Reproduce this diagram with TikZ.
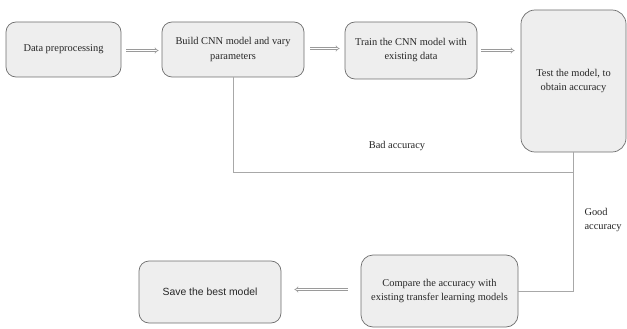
\documentclass[tikz,border=0pt]{standalone}
\usepackage{fontspec}
\setmainfont{Liberation Serif}
\newfontfamily\sansf{Liberation Sans}
\usetikzlibrary{arrows.meta}
\definecolor{boxfill}{HTML}{EEEEEE}
\definecolor{boxline}{HTML}{6E6E6E}
\definecolor{wire}{HTML}{A8A8A8}
\definecolor{arrowgray}{HTML}{9A9A9A}
\definecolor{ink}{HTML}{262626}
\tikzset{
  stepbox/.style={draw=boxline, fill=boxfill, rounded corners=10pt, line width=0.7pt,
    align=center, text=ink, font=\fontsize{10.4}{14}\selectfont, inner sep=2pt},
  wireline/.style={draw=wire, line width=0.8pt},
  dblarrow/.style={draw=arrowgray, double=white, double distance=1.4pt, line width=0.6pt,
    -{Implies}},
  lbl/.style={text=ink, font=\fontsize{10.4}{14}\selectfont}
}
\begin{document}
\begin{tikzpicture}[x=1pt, y=-1pt]
\useasboundingbox (0,0) rectangle (627,329);

\node[stepbox, minimum width=115pt, minimum height=55pt] (b1) at (63.5,49.5) {Data preprocessing};
\node[stepbox, minimum width=142pt, minimum height=55pt] (b2) at (233,49.5) {Build CNN model and vary\\parameters};
\node[stepbox, minimum width=132pt, minimum height=57pt] (b3) at (411,50.5) {Train the CNN model with\\existing data};
\node[stepbox, rounded corners=14pt, minimum width=105pt, minimum height=142pt] (b4) at (573.5,81) {Test the model, to\\obtain accuracy};
\node[stepbox, rounded corners=12pt, minimum width=157pt, minimum height=72pt] (b5) at (439.5,291) {Compare the accuracy with\\existing transfer learning models};
\node[stepbox, minimum width=142pt, minimum height=62pt, font=\sansf\fontsize{10.4}{14}\selectfont] (b6) at (210,292) {Save the best model};

% forward flow
\draw[dblarrow] ([xshift=5pt,yshift=-1pt]b1.east) -- ([xshift=-3pt,yshift=-1pt]b2.west |- b1.east);
\draw[dblarrow] ([xshift=6pt,yshift=1pt]b2.east) -- ([xshift=-5pt,yshift=1pt]b3.west |- b2.east);
\draw[dblarrow] ([xshift=4pt]b3.east) -- ([xshift=-6pt]b4.west |- b3.east);
\draw[dblarrow] ([xshift=-13pt,yshift=1.5pt]b5.west) -- ([xshift=13pt,yshift=1.5pt]b6.east |- b5.west);

% feedback and acceptance paths
\coordinate (junc) at (574,172);
\draw[wireline] (b2.south) |- (junc);
\draw[wireline] (b4.south) |- (b5.east);

\node[lbl] (bad) at (397,146) {Bad accuracy};
\node[lbl, align=left, anchor=west] (good) at (581,220) {Good\\accuracy};
\end{tikzpicture}
\end{document}
